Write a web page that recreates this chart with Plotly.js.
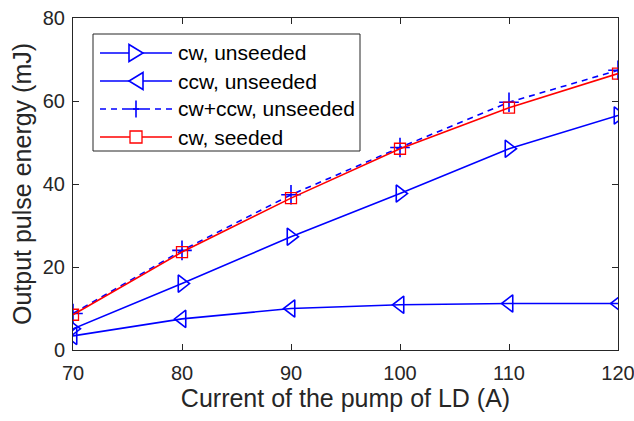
<!DOCTYPE html>
<html><head><meta charset="utf-8">
<script src="https://cdn.plot.ly/plotly-3.0.1.min.js"></script>
<style>html,body{margin:0;padding:0;background:#fff}#c{width:634px;height:421px}</style>
</head><body><div id="c"></div>
<script>
// ---- data ----
const current = [70, 80, 90, 100, 110, 120];
const cwUnseeded = [5.1, 16.0, 27.3, 37.7, 48.5, 56.5];
const ccwUnseeded = [3.4, 7.5, 10.0, 10.9, 11.2, 11.2];
const sumUnseeded = [8.8, 24.0, 37.4, 48.8, 59.7, 67.4];
const cwSeeded = [8.5, 23.6, 36.6, 48.5, 58.4, 66.6];
const seriesNames = ['cw, unseeded', 'ccw, unseeded', 'cw+ccw, unseeded', 'cw, seeded'];
const xTicks = [70, 80, 90, 100, 110, 120];
const yTicks = [0, 20, 40, 60, 80];

// ---- style ----
const blue = '#0000ff', red = '#ff0000', axisCol = '#262626';
const FONT = 'Liberation Sans, Arial, sans-serif';
const W = 634, H = 421;
const M = {l: 73, r: 16, t: 18, b: 71};
const PW = W - M.l - M.r, PH = H - M.t - M.b;
const px2x = p => (p - M.l) / PW;
const px2y = p => (H - M.b - p) / PH;

const seriesY = [cwUnseeded, ccwUnseeded, sumUnseeded, cwSeeded];
const seriesStyle = [
  {line: {color: blue, width: 1.6}, marker: {symbol: 'triangle-right-open', size: 15, color: blue, line: {width: 1.6}}},
  {line: {color: blue, width: 1.6}, marker: {symbol: 'triangle-left-open', size: 15, color: blue, line: {width: 1.6}}},
  {line: {color: blue, width: 1.6, dash: '6px,5px'}, marker: {symbol: 'cross-thin-open', size: 14, color: blue, line: {width: 1.6, color: blue}}},
  {line: {color: red, width: 1.6}, marker: {symbol: 'square-open', size: 11, color: red, line: {width: 1.3}}}
];
const traces = seriesY.map((y, i) => Object.assign({
  x: current, y: y, name: seriesNames[i], mode: 'lines+markers', showlegend: false
}, seriesStyle[i]));

// ---- custom legend (box, key lines, key symbols, labels) ----
const legBox = {x0: 93, x1: 360, y0: 34, y1: 151};
const legRows = [53, 81, 109, 137];
const keyX0 = 100, keyX1 = 172, keyMid = 136, textX = 176;
const shapes = [{type: 'rect', xref: 'paper', yref: 'paper',
  x0: px2x(legBox.x0), x1: px2x(legBox.x1), y0: px2y(legBox.y1), y1: px2y(legBox.y0),
  line: {color: axisCol, width: 1}, fillcolor: '#fff', layer: 'above'}];
const keyPaths = [
  'M-7,-8.5L7,0L-7,8.5Z',
  'M7,-8.5L-7,0L7,8.5Z',
  'M-8,0H8M0,-8.5V8.5',
  'M-6,-6H6V6H-6Z'
];
const keyColors = [blue, blue, blue, red];
const annotations = [];
legRows.forEach((r, i) => {
  shapes.push({type: 'line', xref: 'paper', yref: 'paper',
    x0: px2x(keyX0), x1: px2x(keyX1), y0: px2y(r), y1: px2y(r),
    line: {color: keyColors[i], width: 1.6, dash: i === 2 ? '6px,5px' : 'solid'}, layer: 'above'});
  shapes.push({type: 'path', xref: 'paper', yref: 'paper',
    xsizemode: 'pixel', ysizemode: 'pixel', xanchor: px2x(keyMid), yanchor: px2y(r),
    path: keyPaths[i], line: {color: keyColors[i], width: i === 3 ? 1.3 : 1.6},
    fillcolor: i === 2 ? 'rgba(0,0,0,0)' : '#fff', layer: 'above'});
  annotations.push({xref: 'paper', yref: 'paper', x: px2x(textX), y: px2y(r),
    xanchor: 'left', yanchor: 'middle', showarrow: false, text: seriesNames[i],
    font: {family: FONT, size: 21, color: '#000'}});
});

const axisCommon = {
  showgrid: false, zeroline: false, showline: true, linecolor: axisCol, linewidth: 1,
  mirror: 'ticks', ticks: 'inside', ticklen: 6, tickcolor: axisCol,
  ticklabeloverflow: 'allow',
  tickfont: {family: FONT, size: 20, color: axisCol}
};

const layout = {
  width: W, height: H, margin: M,
  paper_bgcolor: '#fff', plot_bgcolor: '#fff',
  showlegend: false, shapes: shapes, annotations: annotations,
  xaxis: Object.assign({}, axisCommon, {
    range: [70, 120], tickvals: xTicks, ticktext: xTicks.map(String), ticklabelstandoff: 5,
    title: {text: 'Current of the pump of LD (A)', standoff: 2,
      font: {family: FONT, size: 25, color: axisCol}}
  }),
  yaxis: Object.assign({}, axisCommon, {
    range: [0, 80], tickvals: yTicks, ticktext: yTicks.map(String), ticklabelstandoff: 3,
    title: {text: 'Output pulse energy (mJ)', standoff: 4,
      font: {family: FONT, size: 25, color: axisCol}}
  })
};

Plotly.newPlot('c', traces, layout, {displayModeBar: false, staticPlot: true});
</script>
</body></html>
